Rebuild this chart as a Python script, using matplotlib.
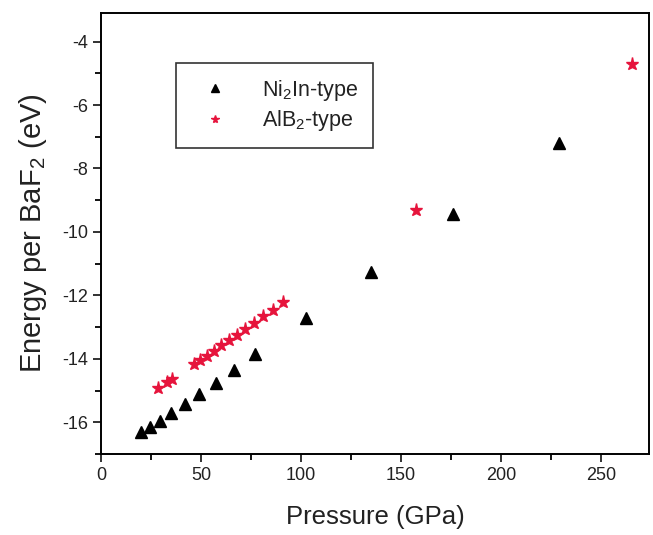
import matplotlib
matplotlib.use("Agg")
import matplotlib.pyplot as plt
from matplotlib.ticker import MultipleLocator

plt.rcParams['font.family'] = ['Liberation Sans', 'DejaVu Sans']
plt.rcParams['mathtext.default'] = 'regular'
plt.rcParams['axes.unicode_minus'] = False

# Ni2In-type data
ni2in_pressure = [19.9, 24.5, 29.5, 35.2, 41.9, 49.0, 57.4, 66.7, 77.2, 102.7, 135.2, 176.2, 228.8]
ni2in_energy = [-16.32, -16.15, -15.95, -15.71, -15.43, -15.12, -14.75, -14.34, -13.85, -12.71, -11.25, -9.42, -7.19]

# AlB2-type data
alb2_pressure = [28.5, 33.0, 35.5, 46.5, 49.5, 52.9, 56.4, 60.0, 63.9, 67.9, 71.9, 76.4, 80.9, 85.9, 90.9, 157.3, 265.3]
alb2_energy = [-14.91, -14.73, -14.63, -14.17, -14.03, -13.90, -13.74, -13.58, -13.41, -13.24, -13.06, -12.87, -12.65, -12.45, -12.22, -9.30, -4.72]

labels = ['Ni$_2$In-type', 'AlB$_2$-type']
x_ticks = [0, 50, 100, 150, 200, 250]
y_ticks = [-16, -14, -12, -10, -8, -6, -4]

fig = plt.figure(figsize=(6.53, 5.35), dpi=100)
ax = fig.add_axes([0.1547, 0.1514, 0.8392, 0.8243])

ax.plot(ni2in_pressure, ni2in_energy, linestyle='none', marker='^', color='black',
        markersize=8.5, label=labels[0])
ax.plot(alb2_pressure, alb2_energy, linestyle='none', marker='*', color='#E6143C',
        markersize=9.5, label=labels[1])

ax.set_xlim(0, 274)
ax.set_ylim(-17, -3.1)
ax.set_xticks(x_ticks)
ax.set_yticks(y_ticks)
ax.xaxis.set_minor_locator(MultipleLocator(25))
ax.yaxis.set_minor_locator(MultipleLocator(1))

ax.tick_params(which='major', direction='out', length=6, width=1.3, labelsize=13,
               colors='#222222', top=False, right=False)
ax.tick_params(which='minor', direction='out', length=4, width=1.3, top=False, right=False)
for sp in ax.spines.values():
    sp.set_linewidth(1.4)

ax.set_xlabel('Pressure (GPa)', fontsize=18.5, color='#222222', labelpad=15)
ax.set_ylabel('Energy per BaF$_2$ (eV)', fontsize=21, color='#222222', labelpad=9)

leg = ax.legend(loc='upper left', bbox_to_anchor=(0.137, 0.887), borderaxespad=0,
                fontsize=15.5, markerscale=0.6, frameon=True, fancybox=False,
                edgecolor='black', handletextpad=1.1, borderpad=0.7, handlelength=2.2,
                labelspacing=0.25)
leg.get_frame().set_linewidth(1.2)
for t in leg.get_texts():
    t.set_color('#222222')

fig.savefig('out.png', dpi=100)
